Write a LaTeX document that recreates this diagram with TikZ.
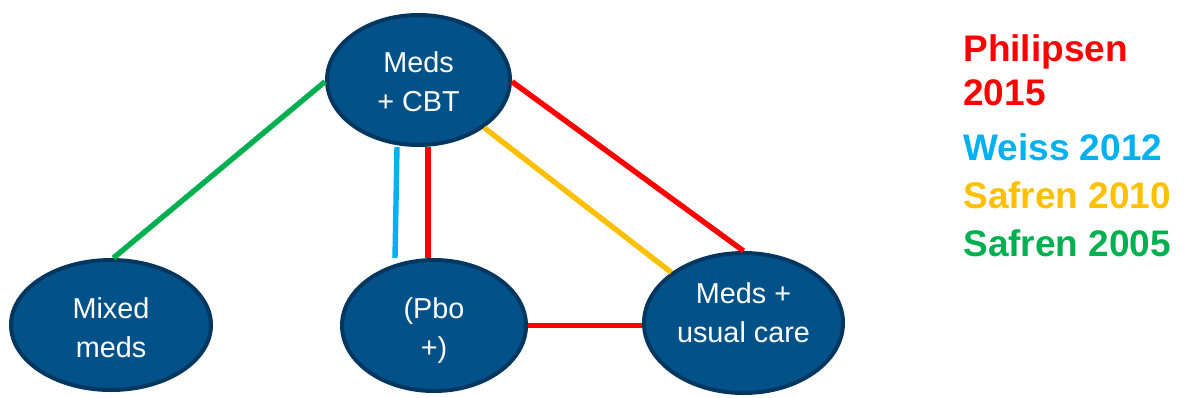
\documentclass[tikz,border=0pt]{standalone}
\usepackage{fontspec}
\setmainfont{Liberation Sans}
\usetikzlibrary{shapes.geometric}
\definecolor{ovalfill}{RGB}{2,82,137}
\definecolor{ovaldraw}{RGB}{3,55,96}
\definecolor{phred}{RGB}{255,0,0}
\definecolor{wsblue}{RGB}{0,176,240}
\definecolor{sfyellow}{RGB}{255,192,0}
\definecolor{sfgreen}{RGB}{0,176,80}
\begin{document}
\begin{tikzpicture}[x=0.5pt,y=-0.5pt,
  oval/.style={ellipse,draw=ovaldraw,fill=ovalfill,line width=2pt,inner sep=0pt},
  txt/.style={text=white,align=center,inner sep=0pt,font=\fontsize{14.4}{19.5}\selectfont},
  link/.style={line width=2.7pt},
  leg/.style={anchor=north west,inner sep=0pt,align=left,font=\fontsize{18.5}{22}\selectfont\bfseries}]
\useasboundingbox (0,0) rectangle (1184,397);
\node[oval,minimum width=91.5pt,minimum height=65pt] (cbt) at (418.5,80) {};
\node[txt] (cbtT) at ([yshift=-1.1pt]cbt.center) {Meds\\+ CBT};
\node[oval,minimum width=100pt,minimum height=65pt] (mixed) at (111,325) {};
\node[txt] (mixedT) at ([yshift=-1.1pt]mixed.center) {Mixed\\meds};
\node[oval,minimum width=92pt,minimum height=65.5pt] (pbo) at (434,325.5) {};
\node[txt] (pboT) at ([yshift=-2.75pt]pbo.center) {(Pbo\\+)};
\node[oval,minimum width=99.5pt,minimum height=70pt] (care) at (743.5,323) {};
\node[txt] (careT) at ([yshift=5.25pt]care.center) {Meds +\\usual care};
\draw[link,sfgreen] (cbt.181) -- (mixed.88);
\draw[link,wsblue] ([xshift=-10.75pt]cbt.south) -- ([xshift=-19.5pt]pbo.north);
\draw[link,phred] ([xshift=4.75pt]cbt.south) -- ([xshift=-3pt]pbo.north);
\draw[link,phred] (cbt.-1) -- (care.north);
\draw[link,sfyellow] (cbt.-36) -- (care.145);
\draw[link,phred] (pbo.east) -- (pbo.east -| care.west);
\node[leg,text=phred] (philipsen) at (963,34) {Philipsen\\2015};
\node[leg,text=wsblue] (weiss) at (963,133) {Weiss 2012};
\node[leg,text=sfyellow] (safrenA) at (963,181) {Safren 2010};
\node[leg,text=sfgreen] (safrenB) at (963,229) {Safren 2005};
\end{tikzpicture}
\end{document}
